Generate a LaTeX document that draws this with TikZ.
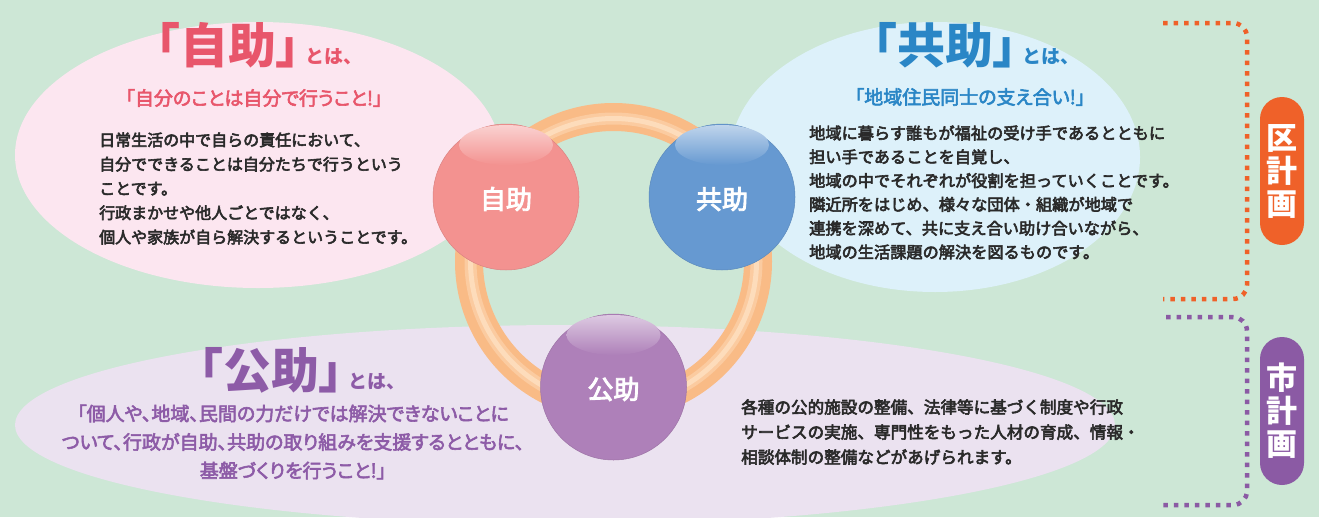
\documentclass[tikz,border=0pt]{standalone}
\usepackage{fontspec}
\setmainfont{Noto Sans CJK JP}
\newfontfamily\jppalt{Noto Sans CJK JP}[RawFeature=+palt]
\newfontfamily\jpmotto{Noto Sans CJK JP}[RawFeature=+palt,FakeBold=3]
\newfontfamily\jpmed{Noto Sans CJK JP}[FakeBold=3.5]

\definecolor{bgmint}{HTML}{CDE7D6}
\definecolor{jijopink}{HTML}{FCE6F0}
\definecolor{kyojoblue}{HTML}{DDF1FA}
\definecolor{kojolilac}{HTML}{EBE2F0}
\definecolor{jijotext}{HTML}{E8566B}
\definecolor{kyojotext}{HTML}{2A86C6}
\definecolor{kojotext}{HTML}{8D5BA7}
\definecolor{bodygray}{HTML}{2A2A2A}
\definecolor{ringorange}{HTML}{F9BB86}
\definecolor{ringlight}{HTML}{FDDCBB}
\definecolor{jijoball}{HTML}{F39290}
\definecolor{kyojoball}{HTML}{6699D1}
\definecolor{kojoball}{HTML}{AE80B9}
\definecolor{kuorange}{HTML}{EF6129}
\definecolor{shipurple}{HTML}{8B5AA4}

\begin{document}
\begin{tikzpicture}[x=1pt,y=-1pt,
    title/.style={inner sep=0pt,anchor=base west,font=\jppalt\bfseries\fontsize{48}{48}\selectfont},
    toha/.style={inner sep=0pt,anchor=base west,xshift=5pt,font=\bfseries\fontsize{19}{19}\selectfont},
    motto/.style={inner sep=0pt,align=center,font=\jpmotto\fontsize{19}{28.5}\selectfont},
    body/.style={inner sep=0pt,anchor=west,align=left,text=bodygray},
    ball/.style={circle,minimum size=146pt,inner sep=0pt,text=white,font=\jpmed\fontsize{26}{26}\selectfont},
    pill/.style={rectangle,rounded corners=22pt,minimum width=44pt,minimum height=148pt,inner sep=0pt,
        text=white,align=center,font=\bfseries\fontsize{31}{33}\selectfont},
    dots/.style={line width=4.5pt,dash pattern=on 4.5pt off 6pt,rounded corners=14pt}]

% \draw[step=20,gray,very thin] (0,0) grid (1319,517);
        \fill[bgmint] (0,0) rectangle (1319,517);
        \useasboundingbox (0,0) rectangle (1319,517);

        \fill[jijopink] (258,155) ellipse (243 and 133);
        \fill[kyojoblue] (935,157) ellipse (205 and 135);
        \fill[kojolilac] (565,425) ellipse (550 and 100);

        \coordinate (ringc) at (613.5,261.5);
        \draw[line width=28pt,ringorange] (ringc) circle (144.5);
        \draw[line width=12pt,ringorange!50!ringlight] (ringc) circle (143);
        \draw[line width=5pt,ringlight] (ringc) circle (143);

        \foreach \nm/\cx/\cy/\col/\txt in {jijo/506/197/jijoball/自助, kyojo/722/197/kyojoball/共助, kojo/613.5/387/kojoball/公助}
        {
            \node[ball,fill=\col,draw=\col!90!black,line width=0.5pt] (\nm) at (\cx,\cy) {};
            \shade[top color=white!58!\col,bottom color=\col] (\cx,\cy-52) ellipse (47 and 20);
            \node[ball] (\nm label) at (\cx,\cy+2) {\txt};
        }

        \node[title,text=jijotext] (jijotitle) at (156,63) {「自助」};
        \node[toha,text=jijotext] (jijotoha) at (jijotitle.base east) {とは、};
        \node[motto,text=jijotext] (jijomotto) at (254,98) {「自分のことは自分で行うこと!」};
        \node[body,font=\jpmed\fontsize{16}{24.3}\selectfont] (jijobody) at (99,188.5) {日常生活の中で自らの責任において、\\自分でできることは自分たちで行うという\\ことです。\\行政まかせや他人ごとではなく、\\個人や家族が自ら解決するということです。};

        \node[title,text=kyojotext] (kyojotitle) at (873,63) {「共助」};
        \node[toha,text=kyojotext] (kyojotoha) at (kyojotitle.base east) {とは、};
        \node[motto,text=kyojotext] (kyojomotto) at (970,97) {「地域住民同士の支え合い!」};
        \node[body,font=\jpmed\fontsize{16.2}{23.8}\selectfont] (kyojobody) at (809,192.5) {地域に暮らす誰もが福祉の受け手であるとともに\\担い手であることを自覚し、\\地域の中でそれぞれが役割を担っていくことです。\\隣近所をはじめ、様々な団体・組織が地域で\\連携を深めて、共に支え合い助け合いながら、\\地域の生活課題の解決を図るものです。};

        \node[title,text=kojotext] (kojotitle) at (199,388) {「公助」};
        \node[toha,text=kojotext] (kojotoha) at (kojotitle.base east) {とは、};
        \node[motto,text=kojotext] (kojomotto) at (293,442) {「個人や、地域、民間の力だけでは解決できないことに\\ついて、行政が自助、共助の取り組みを支援するとともに、\\基盤づくりを行うこと!」};
        \node[body,font=\jpmed\fontsize{16.6}{25}\selectfont] (kojobody) at (741,432) {各種の公的施設の整備、法律等に基づく制度や行政\\サービスの実施、専門性をもった人材の育成、情報・\\相談体制の整備などがあげられます。};

        \draw[dots,kuorange] (1163,23) -- (1247,23) -- (1247,299) -- (1163,299);
        \draw[dots,shipurple] (1166,317) -- (1247,317) -- (1247,505) -- (1163,505);
        \node[pill,fill=kuorange] (kupill) at (1282,171) {区\\計\\画};
        \node[pill,fill=shipurple] (shipill) at (1282,411) {市\\計\\画};

    \end{tikzpicture}
\end{document}
